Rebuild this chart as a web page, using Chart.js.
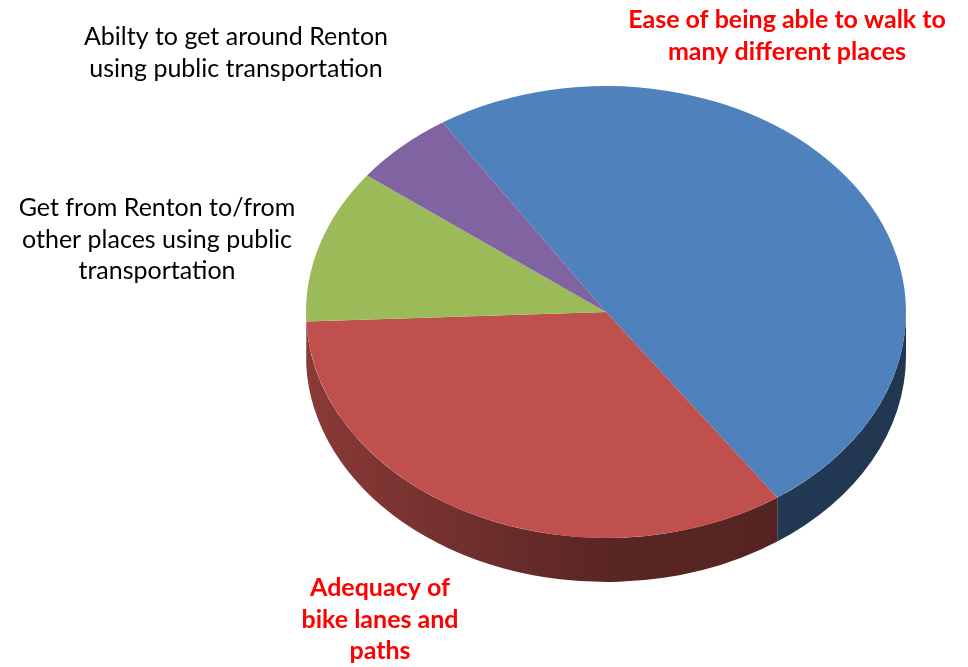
<!DOCTYPE html>
<html lang="en">
<head>
    <meta charset="UTF-8">
    <title>Renton Transportation</title>
    <script src="https://cdn.jsdelivr.net/npm/chart.js"></script>
    <style>
        html, body { margin: 0; padding: 0; background: #fff; }
        #pie { display: block; }
    </style>
</head>
<body>
    <canvas id="pie" width="968" height="667"></canvas>

    <script>
        // Data (share of responses)
        const categories = [
            "Ease of being able to walk to many different places",
            "Adequacy of bike lanes and paths",
            "Get from Renton to/from other places using public transportation",
            "Abilty to get around Renton using public transportation"
        ];
        const values = [49.5, 34, 11, 5.5];
        const sliceColors = ["#4F81BD", "#C0504D", "#9BBB59", "#8064A2"];

        // label text, as wrapped in the original
        const labelLines = [
            ["Ease of being able to walk to", "many different places"],
            ["Adequacy of", "bike lanes and", "paths"],
            ["Get from Renton to/from", "other places using public", "transportation"],
            ["Abilty to get around Renton", "using public transportation"]
        ];
        const labelHighlight = [true, true, false, false];

        // layout only
        const labelPos = [[787, 20], [380, 588], [157, 208], [236, 37]];
        const tilt = 0.753;   // vertical squash of the pie
        const depth = 44;     // thickness of the side wall
        const lineGap = 31.5;

        function shade(hex, f) {
            const n = parseInt(hex.slice(1), 16);
            const r = Math.round(((n >> 16) & 255) * f);
            const g = Math.round(((n >> 8) & 255) * f);
            const b = Math.round((n & 255) * f);
            return `rgb(${r},${g},${b})`;
        }

        // draws side walls, then squashes the top face
        const pie3d = {
            id: "pie3d",
            beforeDatasetsDraw(chart) {
                const ctx = chart.ctx;
                const arcs = chart.getDatasetMeta(0).data;
                if (!arcs.length) return;
                const cx = arcs[0].x, cy = arcs[0].y;
                const rx = arcs[0].outerRadius, ry = rx * tilt;

                arcs.forEach((arc, i) => {
                    const base = sliceColors[i];
                    let a1 = arc.startAngle, a2 = arc.endAngle;
                    // visible front part is where sin > 0
                    for (let n = -1; n <= 2; n++) {
                        const s = Math.max(a1, n * 2 * Math.PI);
                        const e = Math.min(a2, n * 2 * Math.PI + Math.PI);
                        if (e <= s) continue;
                        const grad = ctx.createLinearGradient(cx - rx, 0, cx + rx, 0);
                        grad.addColorStop(0, shade(base, 0.72));
                        grad.addColorStop(0.5, shade(base, 0.47));
                        grad.addColorStop(1, shade(base, 0.42));
                        ctx.save();
                        ctx.beginPath();
                        ctx.ellipse(cx, cy, rx, ry, 0, s, e);
                        ctx.ellipse(cx, cy + depth, rx, ry, 0, e, s, true);
                        ctx.closePath();
                        ctx.fillStyle = grad;
                        ctx.fill();
                        ctx.restore();
                    }
                });

                ctx.save();
                ctx.translate(cx, cy);
                ctx.scale(1, tilt);
                ctx.translate(-cx, -cy);
            },
            afterDatasetsDraw(chart) {
                chart.ctx.restore();
                const ctx = chart.ctx;
                ctx.save();
                ctx.textAlign = "center";
                ctx.textBaseline = "middle";
                labelLines.forEach((lines, i) => {
                    ctx.font = labelHighlight[i] ? "bold 25px Lato, 'Open Sans', sans-serif"
                                                 : "25px Lato, 'Open Sans', sans-serif";
                    ctx.fillStyle = labelHighlight[i] ? "#FF0000" : "#000000";
                    lines.forEach((t, j) => {
                        ctx.fillText(t, labelPos[i][0], labelPos[i][1] + j * lineGap);
                    });
                });
                ctx.restore();
            }
        };

        new Chart(document.getElementById("pie"), {
            type: "pie",
            data: {
                labels: categories,
                datasets: [{
                    data: values,
                    backgroundColor: sliceColors,
                    borderWidth: 0
                }]
            },
            options: {
                responsive: false,
                animation: false,
                events: [],
                rotation: 327,
                layout: { padding: { left: 306, right: 62, top: 12, bottom: 55 } },
                plugins: {
                    legend: { display: false },
                    tooltip: { enabled: false }
                }
            },
            plugins: [pie3d]
        });
    </script>
</body>
</html>
